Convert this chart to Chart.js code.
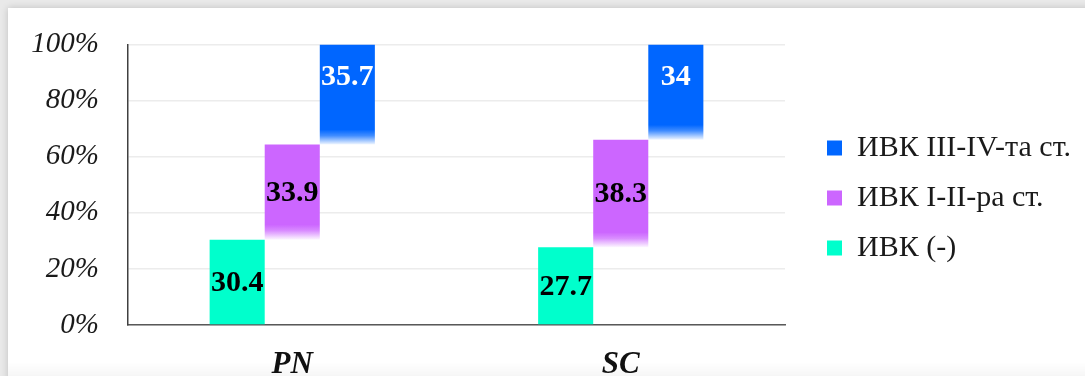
<!DOCTYPE html>
<html>
<head>
<meta charset="utf-8">
<script src="https://cdn.jsdelivr.net/npm/chart.js@4.4.1/dist/chart.umd.min.js"></script>
<style>
  html, body { margin: 0; padding: 0; }
  body { width: 1085px; height: 376px; background: #e9e9e9; overflow: hidden; position: relative; }
  #card { position: absolute; left: 8px; top: 8px; width: 1090px; height: 380px; background: #fff;
          box-shadow: 0 0 7px rgba(0,0,0,0.18); }
  #wrap { position: absolute; left: -32px; top: -2px; width: 1117px; height: 378px; }
  #shade { position: absolute; left: 8px; top: 362px; width: 1077px; height: 14px;
           background: linear-gradient(to bottom, rgba(0,0,0,0), rgba(0,0,0,0.035)); pointer-events: none; }
</style>
</head>
<body>
<div id="card"></div>
<div id="wrap"><canvas id="c" width="1117" height="378"></canvas></div>
<div id="shade"></div>
<script>
// Groups and the share (%) of each grade within a group
const categories = ['PN', 'SC'];
const seriesNames = ['ИВК (-)', 'ИВК I-II-ра ст.', 'ИВК III-IV-та ст.'];
const ivkNone = [30.4, 27.7];
const ivkGrade12 = [33.9, 38.3];
const ivkGrade34 = [35.7, 34];
const yTicks = [0, 20, 40, 60, 80, 100];

const seriesValues = [ivkNone, ivkGrade12, ivkGrade34];
const colors = [[0, 255, 204], [204, 102, 255], [0, 102, 255]];
const labelColors = ['#000000', '#000000', '#ffffff'];
const fadeBottom = [false, true, true];

// Each grade floats on top of the grades below it: [start, end]
const running = categories.map(() => 0);
const floating = seriesValues.map(vals => vals.map((v, i) => {
  const start = running[i];
  running[i] = +(start + v).toFixed(1);
  return [start, running[i]];
}));

const rgba = (c, a) => `rgba(${c[0]},${c[1]},${c[2]},${a})`;

function barFill(si) {
  return function (ctx) {
    const solid = rgba(colors[si], 1);
    if (!fadeBottom[si] || ctx.type !== 'data') return solid;
    const chart = ctx.chart;
    if (!chart.chartArea || !chart.scales.y) return solid;
    const base = chart.scales.y.getPixelForValue(ctx.raw[0]);
    const g = chart.ctx.createLinearGradient(0, base, 0, base - 15);
    g.addColorStop(0, rgba(colors[si], 0.05));
    g.addColorStop(0.6, rgba(colors[si], 0.75));
    g.addColorStop(1, rgba(colors[si], 1));
    return g;
  };
}

// Value labels printed inside each bar
const valueLabels = {
  id: 'valueLabels',
  afterDatasetsDraw(chart) {
    const ctx = chart.ctx;
    ctx.save();
    ctx.font = 'bold 30px "Liberation Serif"';
    ctx.textAlign = 'center';
    ctx.textBaseline = 'middle';
    chart.data.datasets.forEach((ds, si) => {
      const meta = chart.getDatasetMeta(si);
      meta.data.forEach((bar, i) => {
        const top = Math.min(bar.y, bar.base);
        const bottom = Math.max(bar.y, bar.base);
        const y = si === 2 ? top + 33 : (top + bottom) / 2 + 1;
        ctx.fillStyle = labelColors[si];
        ctx.fillText(String(seriesValues[si][i]), bar.x, y);
      });
    });
    ctx.restore();
  }
};

new Chart(document.getElementById('c'), {
  type: 'bar',
  data: {
    labels: categories,
    datasets: seriesNames.map((name, si) => ({
      label: name,
      data: floating[si],
      backgroundColor: barFill(si),
      borderWidth: 0,
      barPercentage: 1.0,
      categoryPercentage: 0.503
    }))
  },
  options: {
    responsive: false,
    animation: false,
    layout: { padding: { top: 22, right: 4, left: 0, bottom: 0 } },
    plugins: {
      tooltip: { enabled: false },
      legend: {
        position: 'right',
        reverse: true,
        labels: {
          font: { family: 'Liberation Serif', size: 30 },
          color: '#1a1a1a',
          boxWidth: 15,
          boxHeight: 15,
          padding: 20,
          generateLabels(chart) {
            return chart.data.datasets.map((ds, si) => ({
              text: ds.label,
              fillStyle: rgba(colors[si], 1),
              strokeStyle: rgba(colors[si], 1),
              lineWidth: 0,
              fontColor: '#1a1a1a',
              hidden: false,
              datasetIndex: si
            }));
          }
        }
      }
    },
    scales: {
      x: {
        grid: { color: 'rgba(0,0,0,0)', drawTicks: false },
        border: { display: true, color: '#595959', width: 1.5 },
        ticks: {
          font: { family: 'Liberation Serif', size: 31, weight: 'bold', style: 'italic' },
          color: '#111111',
          padding: 21
        },
        afterFit(scale) { scale.height = 51; }
      },
      y: {
        min: 0,
        max: 100,
        afterBuildTicks(scale) { scale.ticks = yTicks.map(v => ({ value: v })); },
        grid: { color: '#ececec', lineWidth: 1.5, drawTicks: false },
        border: { display: true, color: '#404040', width: 1.5 },
        ticks: {
          font: { family: 'Liberation Serif', size: 29, style: 'italic' },
          color: '#1a1a1a',
          padding: 29,
          callback: v => v + '%'
        },
        afterFit(scale) { scale.width = 160; }
      },
      // hidden spacer between the plot and the legend
      gap: {
        type: 'linear',
        position: 'right',
        display: false,
        afterFit(scale) { scale.width = 22; }
      }
    }
  },
  plugins: [valueLabels]
});
</script>
</body>
</html>
